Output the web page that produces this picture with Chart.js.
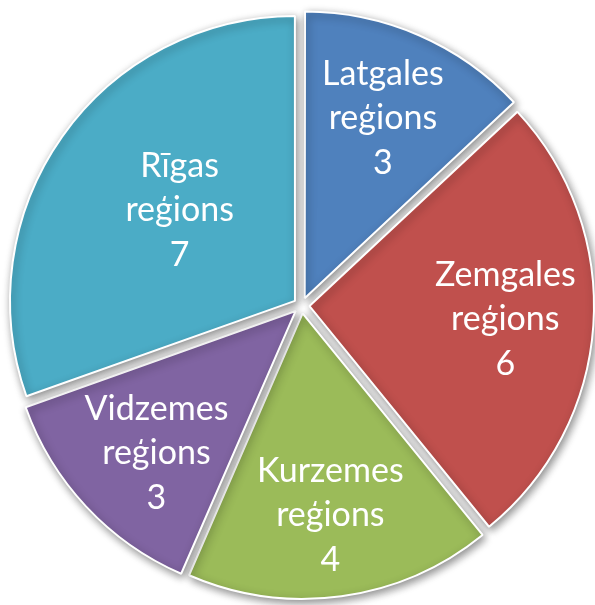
<!DOCTYPE html>
<html>
<head>
<meta charset="utf-8">
<script src="https://cdn.jsdelivr.net/npm/chart.js@4/dist/chart.umd.min.js"></script>
<style>
  html, body { margin: 0; padding: 0; background: #fff; overflow: hidden; width: 595px; height: 605px; }
  /* slightly larger than the window so the exploded pie can fill it */
  #wrap { position: absolute; left: 0; top: 0; width: 603px; height: 611px; }
</style>
</head>
<body>
<div id="wrap"><canvas id="pie"></canvas></div>
<script>
// Chart data
const regions = ['Latgales', 'Zemgales', 'Kurzemes', 'Vidzemes', 'Rīgas'];
const counts = [3, 6, 4, 3, 7];
const sliceColors = ['#4F81BD', '#C0504D', '#9BBB59', '#8064A2', '#4BACC6'];

// label placement: share of radius, and a small turn (degrees) off the slice middle
const labelDist = [0.69, 0.69, 0.717, 0.70, 0.516];
const labelTurn = [0, 0, 0, -2.6, 3];

// Chart.js moves an exploded arc by offset / 4
const EXPLODE = 32;

// Soft shadow behind the slices
const shadowPlugin = {
  id: 'sliceShadow',
  beforeDatasetsDraw(chart) {
    const ctx = chart.ctx;
    ctx.save();
    ctx.shadowColor = 'rgba(0, 0, 0, 0.45)';
    ctx.shadowBlur = 9;
    ctx.shadowOffsetX = 2;
    ctx.shadowOffsetY = 3;
  },
  afterDatasetsDraw(chart) {
    chart.ctx.restore();
  }
};

// Labels inside each slice: name, "reģions", value
const labelPlugin = {
  id: 'sliceLabels',
  afterDraw(chart) {
    const ctx = chart.ctx;
    const meta = chart.getDatasetMeta(0);
    ctx.save();
    ctx.fillStyle = '#ffffff';
    ctx.font = '34px Lato, "Open Sans", sans-serif';
    ctx.textAlign = 'center';
    ctx.textBaseline = 'middle';
    meta.data.forEach((arc, i) => {
      const p = arc.getProps(['x', 'y', 'startAngle', 'endAngle', 'outerRadius'], true);
      const mid = (p.startAngle + p.endAngle) / 2;
      const ang = mid + labelTurn[i] * Math.PI / 180;
      const d = EXPLODE / 4 + labelDist[i] * p.outerRadius;
      const cx = p.x + Math.cos(mid) * EXPLODE / 4 + Math.cos(ang) * (d - EXPLODE / 4);
      const cy = p.y + Math.sin(mid) * EXPLODE / 4 + Math.sin(ang) * (d - EXPLODE / 4);
      const lines = [regions[i], 'reģions', String(counts[i])];
      lines.forEach((t, k) => {
        ctx.fillText(t, cx, cy + (k - 1) * 44.5);
      });
    });
    ctx.restore();
  }
};

new Chart(document.getElementById('pie'), {
  type: 'pie',
  data: {
    labels: regions,
    datasets: [{
      data: counts,
      backgroundColor: sliceColors,
      borderColor: '#ffffff',
      borderWidth: 2,
      offset: EXPLODE
    }]
  },
  options: {
    responsive: true,
    maintainAspectRatio: false,
    animation: false,
    layout: { padding: 0 },
    plugins: {
      legend: { display: false },
      tooltip: { enabled: false }
    },
    events: []
  },
  plugins: [shadowPlugin, labelPlugin]
});
</script>
</body>
</html>
